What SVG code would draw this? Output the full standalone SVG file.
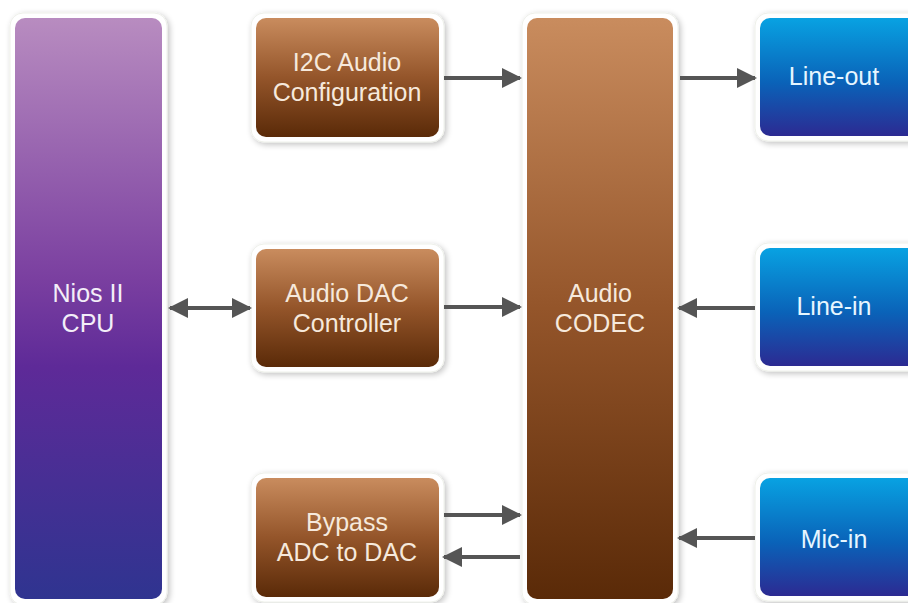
<svg xmlns="http://www.w3.org/2000/svg" width="908" height="603" viewBox="0 0 908 603">
<defs>
<linearGradient id="gPurple" x1="0" y1="0" x2="0" y2="1">
<stop offset="0" stop-color="#b88cc0"/>
<stop offset="0.45" stop-color="#7a3fa0"/>
<stop offset="0.6" stop-color="#5e2a98"/>
<stop offset="1" stop-color="#2f3490"/>
</linearGradient>
<linearGradient id="gBrown" x1="0" y1="0" x2="0" y2="1">
<stop offset="0" stop-color="#c98c5e"/>
<stop offset="0.5" stop-color="#94552a"/>
<stop offset="1" stop-color="#5a2a08"/>
</linearGradient>
<linearGradient id="gBlue" x1="0" y1="0" x2="0" y2="1">
<stop offset="0" stop-color="#08a2e2"/>
<stop offset="0.55" stop-color="#0a62b8"/>
<stop offset="1" stop-color="#2c2a92"/>
</linearGradient>
<filter id="sh" x="-20%" y="-20%" width="140%" height="140%">
<feGaussianBlur in="SourceAlpha" stdDeviation="3"/>
<feOffset dx="2" dy="2" result="b"/>
<feComponentTransfer><feFuncA type="linear" slope="0.25"/></feComponentTransfer>
<feMerge><feMergeNode/><feMergeNode in="SourceGraphic"/></feMerge>
</filter>
<marker id="ah" markerWidth="5" markerHeight="5" refX="4.5" refY="2.5" orient="auto-start-reverse" markerUnits="strokeWidth">
<path d="M0,0 L5,2.5 L0,5 Z" fill="#555"/>
</marker>
</defs>
<style>
.frame{fill:#fff;stroke:#eef0ea;stroke-width:1;filter:url(#sh)}
.t{font-family:"Liberation Sans",Arial,sans-serif;font-size:25px;text-anchor:middle}
.tb{fill:#f6e9dc}
.tl{fill:#e6f6ff}
.tp{fill:#f3eef8}
.c{stroke:#555;stroke-width:4;fill:none;marker-end:url(#ah)}
</style>
<rect width="908" height="603" fill="#fff"/>

<g id="nios">
<rect class="frame" x="10" y="13" width="157" height="592" rx="13"/>
<rect x="15" y="18" width="147" height="581" rx="10" fill="url(#gPurple)"/>
<text class="t tp" x="88" y="302">Nios II</text>
<text class="t tp" x="88" y="332">CPU</text>
</g>

<g id="i2c">
<rect class="frame" x="251" y="13" width="193" height="129" rx="13"/>
<rect x="256" y="18" width="183" height="119" rx="10" fill="url(#gBrown)"/>
<text class="t tb" x="347" y="71">I2C Audio</text>
<text class="t tb" x="347" y="101">Configuration</text>
</g>

<g id="dac">
<rect class="frame" x="251" y="244" width="193" height="128" rx="13"/>
<rect x="256" y="249" width="183" height="118" rx="10" fill="url(#gBrown)"/>
<text class="t tb" x="347" y="302">Audio DAC</text>
<text class="t tb" x="347" y="332">Controller</text>
</g>

<g id="bypass">
<rect class="frame" x="251" y="473" width="193" height="129" rx="13"/>
<rect x="256" y="478" width="183" height="119" rx="10" fill="url(#gBrown)"/>
<text class="t tb" x="347" y="531">Bypass</text>
<text class="t tb" x="347" y="561">ADC to DAC</text>
</g>

<g id="codec">
<rect class="frame" x="522" y="13" width="156" height="592" rx="13"/>
<rect x="527" y="18" width="146" height="581" rx="10" fill="url(#gBrown)"/>
<text class="t tb" x="600" y="302">Audio</text>
<text class="t tb" x="600" y="332">CODEC</text>
</g>

<g id="lineout">
<rect class="frame" x="755" y="13" width="170" height="128" rx="13"/>
<rect x="760" y="18" width="165" height="118" rx="10" fill="url(#gBlue)"/>
<text class="t tl" x="834" y="85">Line-out</text>
</g>

<g id="linein">
<rect class="frame" x="755" y="243" width="170" height="128" rx="13"/>
<rect x="760" y="248" width="165" height="118" rx="10" fill="url(#gBlue)"/>
<text class="t tl" x="834" y="315">Line-in</text>
</g>

<g id="micin">
<rect class="frame" x="755" y="473" width="170" height="128" rx="13"/>
<rect x="760" y="478" width="165" height="118" rx="10" fill="url(#gBlue)"/>
<text class="t tl" x="834" y="548">Mic-in</text>
</g>

<g id="connectors">
<line class="c" x1="444" y1="78" x2="520" y2="78"/>
<line class="c" x1="680" y1="78" x2="755" y2="78"/>
<line class="c" x1="170" y1="308" x2="250" y2="308" style="marker-start:url(#ah)"/>
<line class="c" x1="444" y1="307" x2="520" y2="307"/>
<line class="c" x1="755" y1="308" x2="679" y2="308"/>
<line class="c" x1="444" y1="515" x2="520" y2="515"/>
<line class="c" x1="520" y1="557" x2="444" y2="557"/>
<line class="c" x1="755" y1="538" x2="679" y2="538"/>
</g>
</svg>
